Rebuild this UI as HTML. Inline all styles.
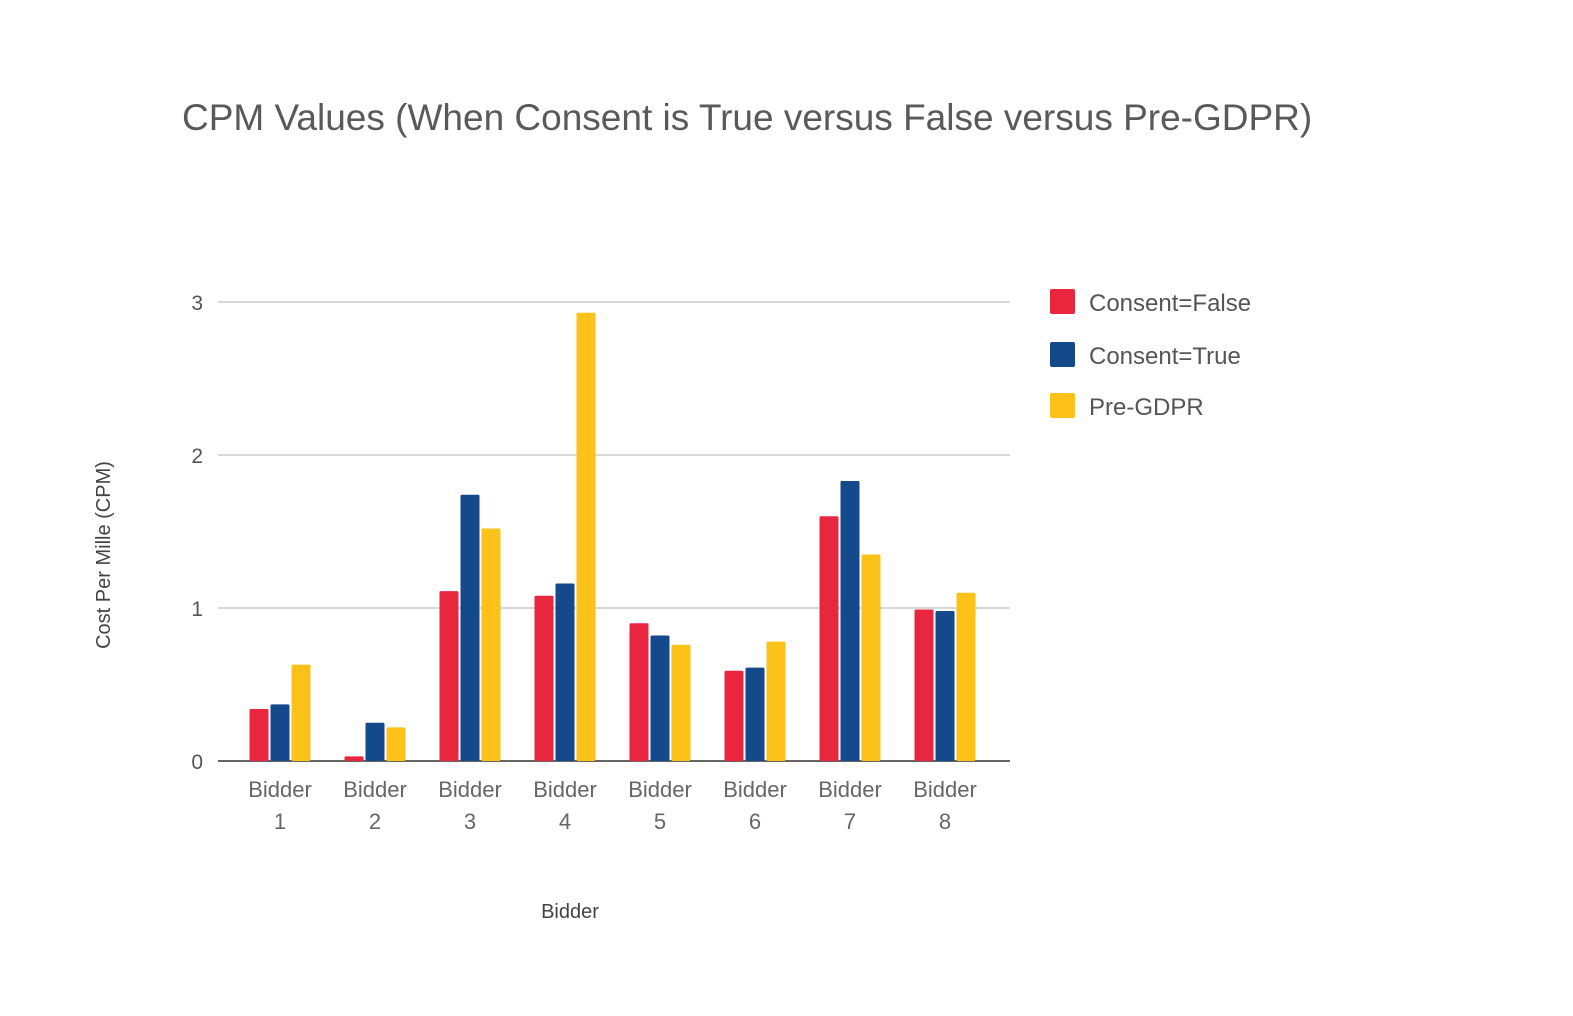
<!DOCTYPE html>
<html><head><meta charset="utf-8"><style>
body{margin:0;background:#fff;}
svg text{font-family:"Liberation Sans",sans-serif;}
</style></head><body>
<svg id="chart" width="1573" height="1011" xmlns="http://www.w3.org/2000/svg">
<rect width="1573" height="1011" fill="#fff"/>
<text x="182" y="130" font-size="37" fill="#595959">CPM Values (When Consent is True versus False versus Pre-GDPR)</text>
<g id="grid"></g>
<g id="bars"></g>
<g id="xlabels"></g>
<text x="570" y="918" font-size="20" fill="#444" text-anchor="middle">Bidder</text>
<text transform="translate(110,555) rotate(-90)" font-size="20" fill="#444" text-anchor="middle">Cost Per Mille (CPM)</text>
<g id="legend"></g>
</svg>
<script>
const categories=["Bidder 1","Bidder 2","Bidder 3","Bidder 4","Bidder 5","Bidder 6","Bidder 7","Bidder 8"];
const consentFalse=[0.34,0.03,1.11,1.08,0.90,0.59,1.60,0.99];
const consentTrue=[0.37,0.25,1.74,1.16,0.82,0.61,1.83,0.98];
const preGDPR=[0.63,0.22,1.52,2.93,0.76,0.78,1.35,1.10];
const seriesNames=["Consent=False","Consent=True","Pre-GDPR"];
const yTicks=[0,1,2,3];
const colors=["#e8273f","#144a8c","#fcc21a"];
const NS="http://www.w3.org/2000/svg";
const y0=761,yTop=302,yMax=3;
function yScale(v){return y0-(y0-yTop)*v/yMax;}
const xStart=232.5,groupW=95;
function xCenter(i){return xStart+groupW*(i+0.5);}
function mk(tag,attrs,parent){const e=document.createElementNS(NS,tag);for(const k in attrs)e.setAttribute(k,attrs[k]);parent.appendChild(e);return e;}
const grid=document.getElementById('grid');
yTicks.forEach(t=>{
  const y=yScale(t);
  const l=mk('line',{x1:218,x2:1010,y1:y,y2:y,stroke:t===0?'#333':'#ccc','stroke-width':t===0?1.5:1.5},grid);
  
  
  const tx=mk('text',{x:203,y:y+8,'font-size':21,fill:'#555','text-anchor':'end'},grid);
  tx.textContent=t;
  
  
});
const bars=document.getElementById('bars');
const series=[consentFalse,consentTrue,preGDPR];
const bw=19,gap=2;
categories.forEach((c,i)=>{
  const cx=xCenter(i);
  series.forEach((s,j)=>{
    const x=cx-(3*bw+2*gap)/2+j*(bw+gap);
    const y=yScale(s[i]);
    const r=mk('rect',{x:x,y:y,width:bw,height:y0-y,fill:colors[j],rx:1.5},bars);
    
    
  });
  const parts=c.split(' ');
  const t1=mk('text',{x:cx,y:797,'font-size':22,fill:'#666','text-anchor':'middle'},document.getElementById('xlabels'));
  t1.textContent=parts[0];
  
  
  const t2=mk('text',{x:cx,y:829,'font-size':22,fill:'#666','text-anchor':'middle'},document.getElementById('xlabels'));
  t2.textContent=parts[1];
  
  
});
const lg=document.getElementById('legend');
const ly=[302,355,406];
seriesNames.forEach((n,j)=>{
  const g=mk('g',{},lg);
  
  
  mk('rect',{x:1050,y:ly[j]-13,width:25,height:25,fill:colors[j],rx:2},g);
  const t=mk('text',{x:1089,y:ly[j]+9,'font-size':24,fill:'#555'},g);
  t.textContent=n;
});
</script>
</body></html>
